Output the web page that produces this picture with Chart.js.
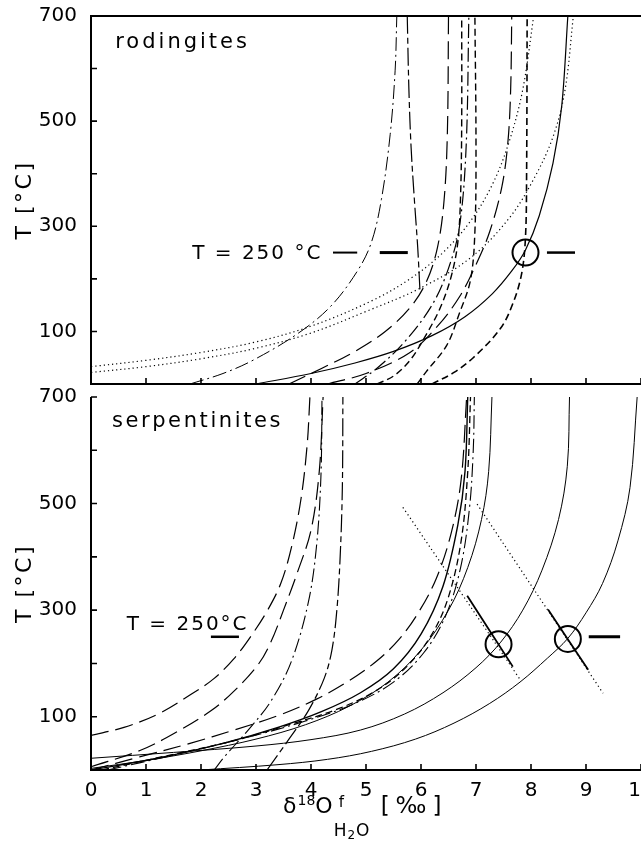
<!DOCTYPE html>
<html>
<head>
<meta charset="utf-8">
<script src="https://cdn.jsdelivr.net/npm/chart.js@4.4.1/dist/chart.umd.min.js"></script>
<style>
  html, body { margin: 0; padding: 0; background: #fff; overflow: hidden; width: 641px; height: 843px; }
  #topBox { position: absolute; left: 0; top: 0; }
  #botBox { position: absolute; left: 0; top: 381px; }
  #xtitle { position: absolute; left: 283px; top: 794px; font: 22px "DejaVu Sans", sans-serif; white-space: nowrap; line-height: 22px; color: #000; }
  #xtitle .sup { font-size: 14px; position: relative; top: -8px; margin-left: 1px; }
  #xtitle .stk { display: inline-block; position: relative; width: 39px; height: 22px; vertical-align: top; }
  #xtitle .stk .f { position: absolute; left: 6px; top: -3px; font-size: 15px; }
  #xtitle .stk .h { position: absolute; left: 1px; top: 25px; font-size: 17px; letter-spacing: 1px; }
  #xtitle .stk .h span { font-size: 12px; position: relative; top: 3px; }
  #xtitle .pm { font-size: 23px; letter-spacing: 6px; margin-left: 9px; }
</style>
</head>
<body>
<div id="topBox"><canvas id="topChart" width="700" height="400"></canvas></div>
<div id="botBox"><canvas id="botChart" width="700" height="462"></canvas></div>
<div id="xtitle">δ<span class="sup">18</span>O<span class="stk"><span class="f">f</span><span class="h">H<span>2</span>O</span></span><span class="pm">[‰]</span></div>
<script>
// line styles
const DOT = [1.2, 3];
const LDASH = [18, 7];
const MDASH = [7, 4];
const DASHDOT = [14, 4, 2, 4];
const LDASHDOT = [18, 4, 6, 4];

// ---- rodingites, [delta18O fluid, T]
const rodDotA = [[0, 33], [1, 45], [2, 60], [3, 80], [4, 110], [5.1, 158], [5.8, 200], [6.4, 250], [6.9, 310], [7.3, 380], [7.6, 460], [7.85, 560], [8.05, 700]];
const rodDotB = [[0, 22], [1, 33], [2, 48], [3, 68], [4, 97], [5, 138], [6, 183], [6.9, 240], [7.6, 315], [8.05, 390], [8.4, 470], [8.62, 560], [8.77, 700]];
const rodSolid = [[3.0, 0], [4.0, 20], [4.8, 40], [5.5, 62], [6.2, 92], [6.8, 128], [7.3, 172], [7.65, 215], [7.9, 255], [8.15, 320], [8.4, 420], [8.56, 530], [8.67, 700]];
const rodDashV = [[6.2, 0], [6.6, 22], [6.95, 50], [7.44, 105], [7.67, 153], [7.83, 210], [7.9, 280], [7.92, 400], [7.93, 700]];
const rodDashDot1 = [[1.8, 0], [2.4, 20], [2.96, 46], [3.76, 96], [4.36, 148], [4.85, 216], [5.1, 270], [5.28, 351], [5.44, 475], [5.53, 597], [5.56, 700]];
const rodDashDot2 = [[5.98, 180], [5.94, 260], [5.88, 350], [5.82, 450], [5.78, 560], [5.75, 700]];
const rodDashDot3 = [[4.8, 0], [5.2, 30], [5.7, 80], [6.2, 150], [6.5, 220], [6.7, 300], [6.82, 450], [6.87, 700]];
const rodLDash1 = [[3.6, 0], [4.2, 30], [4.8, 62], [5.35, 100], [5.8, 145], [6.1, 195], [6.3, 260], [6.42, 350], [6.48, 480], [6.5, 700]];
const rodLDash2 = [[4.3, 0], [5.0, 20], [5.8, 60], [6.3, 110], [6.7, 166], [7.0, 227], [7.25, 290], [7.47, 375], [7.58, 460], [7.63, 560], [7.65, 700]];
const rodMDash1 = [[5.2, 0], [5.5, 15], [5.8, 45], [6.1, 95], [6.35, 145], [6.55, 205], [6.67, 270], [6.72, 360], [6.74, 500], [6.74, 700]];
const rodMDash2 = [[5.93, 0], [6.1, 24], [6.47, 74], [6.7, 135], [6.9, 198], [6.98, 290], [7.0, 450], [6.98, 700]];
const rodCircle = [[7.9, 250]];
const rodBar250 = [[4.4, 4.84], [5.25, 5.76], [8.29, 8.8]];

// ---- serpentinites
const serLDash1 = [[0, 65], [0.6, 80], [1.22, 105], [1.82, 142], [2.24, 172], [2.6, 209], [2.9, 250], [3.2, 298], [3.45, 350], [3.65, 420], [3.82, 510], [3.93, 610], [3.98, 700]];
const serLDash2 = [[0, 6], [0.9, 37], [1.5, 68], [2.18, 111], [2.6, 148], [3.04, 198], [3.27, 240], [3.5, 300], [3.75, 370], [4.0, 450], [4.15, 560], [4.22, 700]];
const serDashDot1 = [[3.2, 0], [3.58, 55], [3.95, 111], [4.24, 172], [4.38, 225], [4.47, 300], [4.53, 400], [4.57, 530], [4.58, 700]];
const serDashDot2 = [[2.24, 0], [2.42, 24], [2.9, 80], [3.27, 129], [3.64, 203], [3.95, 314], [4.1, 420], [4.18, 550], [4.2, 700]];
const serLDash3 = [[0, 0], [0.9, 25], [1.8, 50], [2.6, 75], [3.4, 102], [4.1, 133], [4.7, 168], [5.2, 205], [5.6, 245], [5.95, 295], [6.28, 360], [6.55, 445], [6.73, 545], [6.83, 700]];
const serSolid1 = [[0, 0], [1.2, 22], [2.4, 50], [3.4, 80], [4.2, 110], [4.9, 145], [5.5, 190], [6.0, 255], [6.4, 345], [6.67, 460], [6.8, 560], [6.85, 700]];
const serDashDot3 = [[0.3, 0], [1.5, 28], [2.8, 60], [3.9, 92], [4.8, 125], [5.5, 165], [6.05, 220], [6.45, 290], [6.72, 380], [6.88, 490], [6.95, 600], [6.97, 700]];
const serSolid2 = [[0, 3], [1, 18], [2, 36], [3, 58], [3.9, 85], [4.7, 120], [5.4, 165], [6.0, 225], [6.5, 300], [6.85, 380], [7.1, 470], [7.23, 560], [7.29, 700]];
const serMDash = [[0.2, 0], [1.3, 25], [2.6, 55], [3.6, 85], [4.5, 115], [5.2, 150], [5.75, 195], [6.2, 255], [6.5, 325], [6.73, 430], [6.85, 560], [6.9, 700]];
const serSolid3 = [[0, 22], [1.5, 33], [3.0, 45], [4.0, 57], [4.9, 75], [5.7, 105], [6.4, 145], [7.0, 192], [7.45, 240], [7.85, 300], [8.2, 375], [8.5, 470], [8.66, 570], [8.7, 700]];
const serSolid4 = [[2.0, 0], [3.4, 10], [4.3, 20], [5.1, 35], [5.9, 58], [6.6, 88], [7.25, 125], [7.8, 165], [8.3, 210], [8.67, 247], [9.0, 295], [9.3, 350], [9.58, 430], [9.8, 530], [9.93, 700]];
const serDiag1Dot = [[5.67, 493], [7.8, 170]];
const serDiag1 = [[6.84, 327], [7.67, 194]];
const serDiag2Dot = [[7.02, 499], [9.31, 144]];
const serDiag2 = [[8.31, 301], [9.04, 188]];
const serCircles = [[7.41, 236], [8.67, 246]];
const serBar250 = [[2.18, 2.69], [9.05, 9.62]];

const barT = 250;
const xTicks = [0, 1, 2, 3, 4, 5, 6, 7, 8, 9, 10];
const yLabelled = [100, 300, 500, 700];

const FONT = '"DejaVu Sans", sans-serif';
Chart.defaults.font.family = FONT;
Chart.defaults.color = '#000';

function pts(arr) {
  return arr.map(p => ({ x: p[0], y: p[1] }));
}

function curve(arr, dash, width) {
  return {
    data: pts(arr), showLine: true, borderDash: dash, borderWidth: width,
    borderColor: '#000', pointRadius: 0, tension: 0.35, fill: false
  };
}

function bars(list, widths) {
  return list.map((b, i) => ({
    data: [{ x: b[0], y: barT }, { x: b[1], y: barT }], showLine: true,
    borderWidth: widths[i], borderColor: '#000', pointRadius: 0, tension: 0
  }));
}

function circles(arr) {
  return {
    data: pts(arr), showLine: false, pointRadius: 13, pointBorderWidth: 2,
    pointBorderColor: '#000', pointBackgroundColor: 'rgba(0,0,0,0)', pointStyle: 'circle'
  };
}

// axis frame, inner ticks and the texts in the panels
const frame = {
  id: 'frame',
  afterDatasetsDraw(chart, args, opts) {
    const ctx = chart.ctx;
    const a = chart.chartArea;
    const x = chart.scales.x, y = chart.scales.y;
    ctx.save();
    ctx.strokeStyle = '#000';
    ctx.lineWidth = 2;
    ctx.beginPath();
    ctx.moveTo(a.left, a.top); ctx.lineTo(a.left, a.bottom);
    ctx.moveTo(a.left - 1, a.bottom); ctx.lineTo(a.right, a.bottom);
    if (opts.topLine) { ctx.moveTo(a.left - 1, a.top); ctx.lineTo(a.right, a.top); }
    ctx.stroke();
    ctx.lineWidth = 1.6;
    ctx.beginPath();
    y.ticks.forEach(t => {
      const py = y.getPixelForValue(t.value);
      ctx.moveTo(a.left, py); ctx.lineTo(a.left + 6, py);
    });
    x.ticks.forEach(t => {
      const px = x.getPixelForValue(t.value);
      ctx.moveTo(px, a.bottom); ctx.lineTo(px, a.bottom - 6);
    });
    ctx.stroke();

    ctx.fillStyle = '#000';
    ctx.textBaseline = 'middle';
    ctx.textAlign = 'left';
    (opts.labels || []).forEach(l => {
      ctx.font = l.size + 'px ' + FONT;
      ctx.letterSpacing = l.spacing + 'px';
      ctx.fillText(l.text, x.getPixelForValue(l.x), y.getPixelForValue(l.y));
    });

    // y axis title
    ctx.font = '22px ' + FONT;
    ctx.letterSpacing = '2.5px';
    ctx.textAlign = 'center';
    ctx.translate(25, (a.top + a.bottom) / 2);
    ctx.rotate(-Math.PI / 2);
    ctx.fillText('T [°C]', 0, 0);
    ctx.restore();
  }
};

function options(isTop, labels) {
  return {
    responsive: false,
    animation: false,
    layout: { padding: { top: isTop ? 11 : 10, right: 59, bottom: 0, left: 0 } },
    plugins: {
      legend: { display: false },
      tooltip: { enabled: false },
      frame: { topLine: isTop, labels: labels }
    },
    scales: {
      x: {
        type: 'linear', min: 0, max: 10,
        afterBuildTicks: s => { s.ticks = xTicks.map(v => ({ value: v })); },
        afterFit: s => { s.height = isTop ? 10 : 73; },
        grid: { display: false },
        border: { display: false },
        ticks: { display: !isTop, padding: 3, font: { size: 20, lineHeight: 1 } }
      },
      y: {
        type: 'linear', min: 0, max: 700,
        afterFit: s => { s.width = 91; },
        grid: { display: false },
        border: { display: false },
        ticks: {
          stepSize: 100, padding: 6, font: { size: 20, lineHeight: 1 },
          callback: v => (yLabelled.includes(v) ? String(v) : '')
        }
      }
    }
  };
}

const topSets = [
  curve(rodDotA, DOT, 1.2),
  curve(rodDotB, DOT, 1.2),
  curve(rodSolid, [], 1.2),
  curve(rodDashV, MDASH, 1.6),
  curve(rodDashDot1, DASHDOT, 1),
  curve(rodDashDot2, LDASHDOT, 1.2),
  curve(rodDashDot3, DASHDOT, 1.2),
  curve(rodLDash1, LDASH, 1.2),
  curve(rodLDash2, LDASH, 1.2),
  curve(rodMDash1, MDASH, 1.4),
  curve(rodMDash2, MDASH, 1.4),
  circles(rodCircle)
].concat(bars(rodBar250, [2, 3, 2.5]));

const botSets = [
  curve(serLDash1, LDASH, 1.2),
  curve(serLDash2, LDASH, 1.2),
  curve(serDashDot1, LDASHDOT, 1.2),
  curve(serDashDot2, DASHDOT, 1.1),
  curve(serLDash3, LDASH, 1.2),
  curve(serSolid1, [], 1.4),
  curve(serDashDot3, DASHDOT, 1.1),
  curve(serSolid2, [], 1),
  curve(serMDash, MDASH, 1.3),
  curve(serSolid3, [], 1),
  curve(serSolid4, [], 1),
  curve(serDiag1Dot, DOT, 1.2),
  curve(serDiag1, [], 1.8),
  curve(serDiag2Dot, DOT, 1.2),
  curve(serDiag2, [], 1.8),
  circles(serCircles)
].concat(bars(serBar250, [2.5, 3]));

new Chart(document.getElementById('topChart'), {
  type: 'scatter',
  data: { datasets: topSets },
  options: options(true, [
    { text: 'rodingites', x: 0.44, y: 650, size: 21, spacing: 3 },
    { text: 'T = 250 °C', x: 1.84, y: 247, size: 20, spacing: 2 }
  ]),
  plugins: [frame]
});

new Chart(document.getElementById('botChart'), {
  type: 'scatter',
  data: { datasets: botSets },
  options: options(false, [
    { text: 'serpentinites', x: 0.38, y: 654, size: 21, spacing: 2.6 },
    { text: 'T = 250°C', x: 0.65, y: 273, size: 20, spacing: 2 }
  ]),
  plugins: [frame]
});
</script>
</body>
</html>
